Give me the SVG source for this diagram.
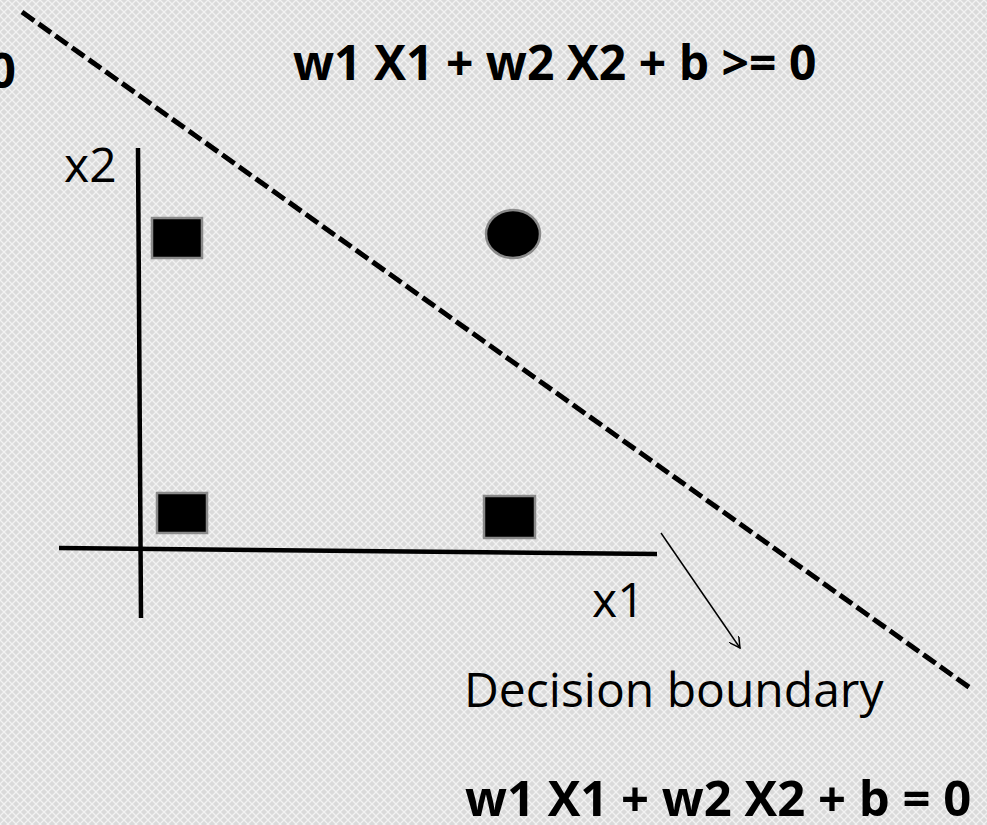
<svg xmlns="http://www.w3.org/2000/svg" width="987" height="825" viewBox="0 0 987 825">
<defs>
<pattern id="hatch" width="8" height="8" patternUnits="userSpaceOnUse">
<rect width="8" height="8" fill="#dadada"/>
<path d="M0,0 L8,8 M8,0 L0,8" stroke="#f2f2f2" stroke-width="1.3"/>
</pattern>
<marker id="open" viewBox="0 0 12 12" refX="11" refY="6" markerWidth="12" markerHeight="12" markerUnits="userSpaceOnUse" orient="auto">
<path d="M0,0 L11,6 L0,12" fill="none" stroke="#000" stroke-width="1.5"/>
</marker>
<style>
.eq{font-family:"Open Sans","Noto Sans",sans-serif;font-weight:bold;font-size:48px;fill:#000}
.lbl{font-family:"Open Sans","Noto Sans",sans-serif;font-size:48px;fill:#000}
.pt{fill:#000;stroke:#8a8a8a;stroke-width:2.5}
.axis{stroke:#000;stroke-width:4.5;fill:none}
</style>
</defs>
<rect width="987" height="825" fill="url(#hatch)"/>
<g id="connectors">
<line id="boundary" x1="22" y1="12" x2="973" y2="690" stroke="#000" stroke-width="5" stroke-dasharray="15 5.5"/>
<line id="x2-axis" class="axis" x1="138" y1="148" x2="141" y2="618"/>
<line id="x1-axis" class="axis" x1="59" y1="548" x2="657" y2="554"/>
<line id="pointer" x1="661" y1="533" x2="740" y2="648" stroke="#000" stroke-width="1.5" marker-end="url(#open)"/>
</g>
<g id="p1"><rect class="pt" x="152" y="218" width="50" height="40"/></g>
<g id="p2"><rect class="pt" x="157" y="493" width="50" height="40"/></g>
<g id="p3"><rect class="pt" x="484" y="496" width="51" height="42"/></g>
<g id="p4"><ellipse class="pt" cx="513" cy="234" rx="27" ry="24"/></g>
<g id="labels">
<text class="eq" x="16" y="88" text-anchor="end">0</text>
<text class="eq" x="293" y="80">w1 X1 + w2 X2 + b &gt;= 0</text>
<text class="eq" x="465" y="816" style="font-size:49px">w1 X1 + w2 X2 + b = 0</text>
<text class="lbl" x="64" y="182">x2</text>
<text class="lbl" x="592" y="617">x1</text>
<text class="lbl" x="464" y="707">Decision boundary</text>
</g>
</svg>
